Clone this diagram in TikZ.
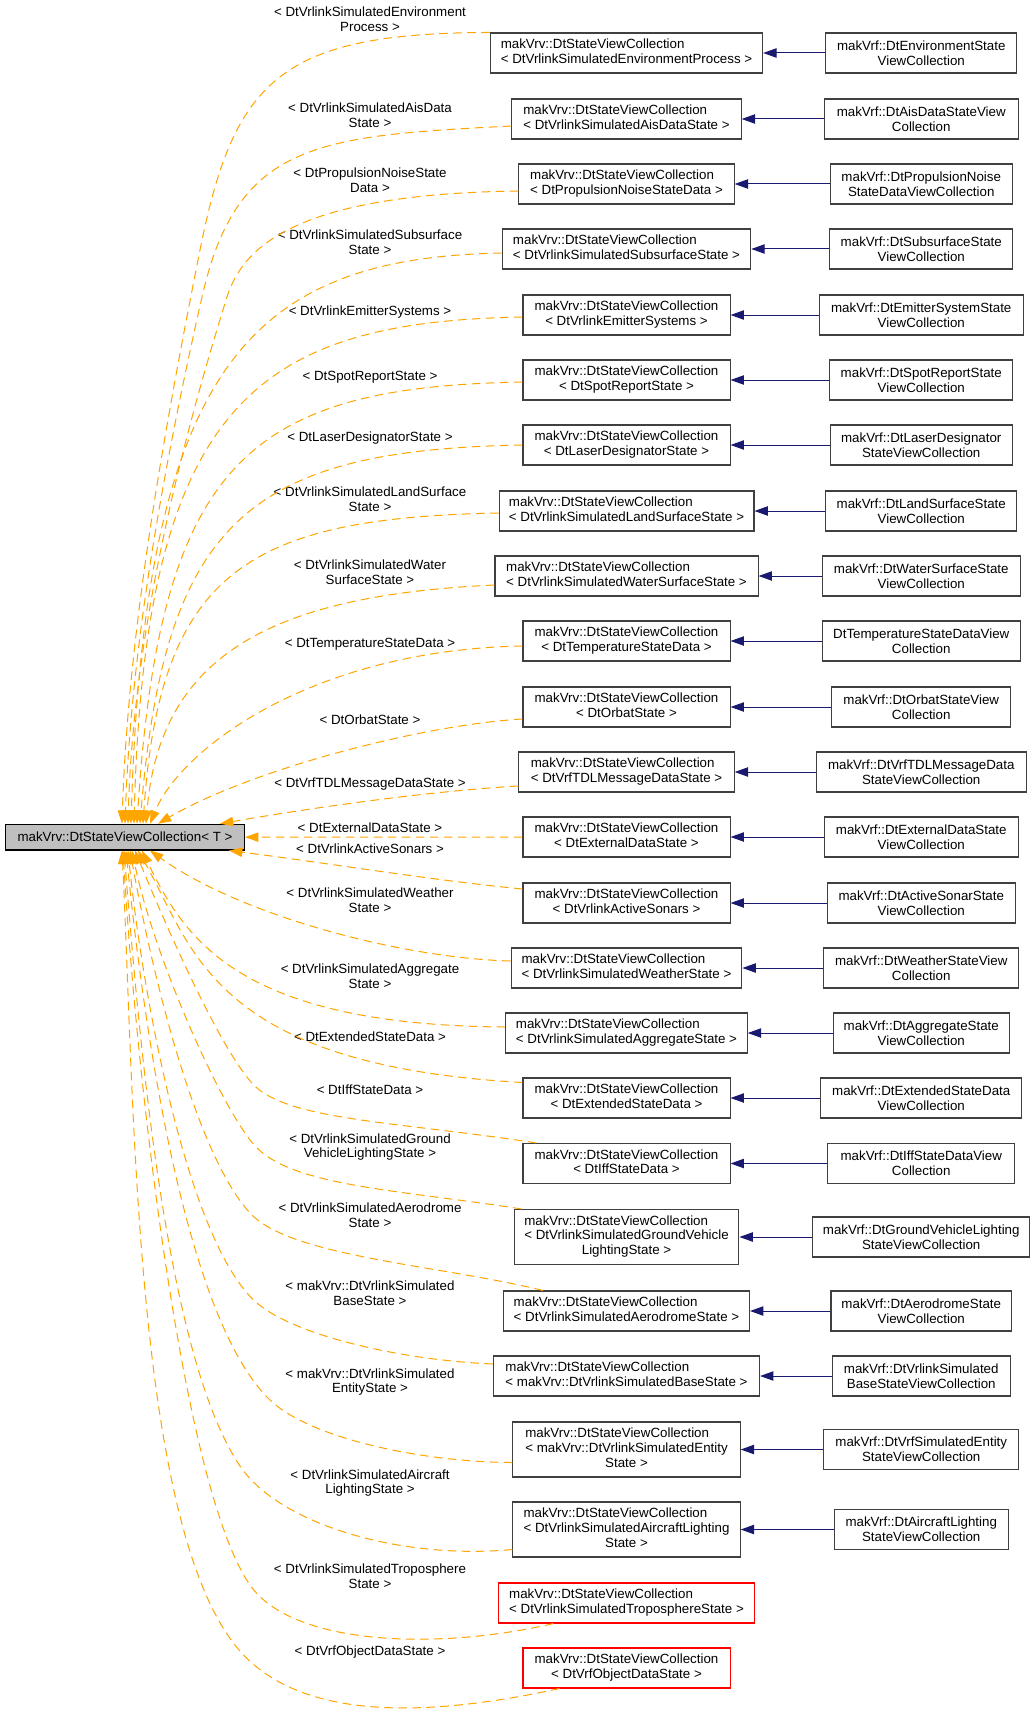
\documentclass[tikz,border=0pt]{standalone}
\usepackage{fontspec}
\setmainfont{Liberation Sans}
\usetikzlibrary{arrows.meta,calc}
\definecolor{dxorange}{HTML}{FFA500}
\definecolor{dxblue}{HTML}{191970}
\definecolor{dxgray}{HTML}{BFBFBF}
\definecolor{dxborder}{HTML}{404040}
\definecolor{dxred}{HTML}{FF0000}
\newcommand\dxsvc[1]{\begin{tabular}{@{}l@{}}makVrv::DtStateViewCollection\\\multicolumn{1}{@{}c@{}}{#1}\end{tabular}}
\newcommand\dxsvcc[2]{\begin{tabular}{@{}l@{}}makVrv::DtStateViewCollection\\#1\\\multicolumn{1}{@{}c@{}}{#2}\end{tabular}}
\begin{document}
\begin{tikzpicture}[x=0.75pt,y=-0.75pt,font=\fontsize{10}{11}\selectfont,
  lbox/.style={draw=dxborder,line width=0.8pt,fill=white,inner sep=0pt,minimum height=30pt,minimum width=155.3pt},
  lbox3/.style={lbox,minimum height=41.25pt},
  redbox/.style={lbox,draw=dxred},
  rbox/.style={draw=dxborder,line width=0.8pt,fill=white,inner sep=0pt,minimum height=30pt,align=center},
  basebox/.style={draw=black,line width=0.8pt,fill=dxgray,inner sep=0pt,minimum height=19.3pt,minimum width=179.25pt},
  lab/.style={align=center,inner sep=0pt},
  inh/.style={draw=dxblue,line width=0.75pt,-{Triangle[length=10pt,width=7pt]}},
  dep/.style={draw=dxorange,line width=0.75pt,dash pattern=on 6.5pt off 4pt,-{Triangle[length=10pt,width=7pt,fill=dxorange]}}]
\fill[white] (0,0) rectangle (1035,1712);
\useasboundingbox (0,0) rectangle (1035,1712);

% base node
\node[basebox] (base) at (125,837.15) {makVrv::DtStateViewCollection< T >};

% left (template instance) nodes
\node[lbox,minimum width=204.2pt] (L1) at (626.5,53) {\dxsvc{< DtVrlinkSimulatedEnvironmentProcess >}};
\node[lbox,minimum width=172pt] (L2) at (626.5,119) {\dxsvc{< DtVrlinkSimulatedAisDataState >}};
\node[lbox,minimum width=161.5pt] (L3) at (626.5,184) {\dxsvc{< DtPropulsionNoiseStateData >}};
\node[lbox,minimum width=186.4pt] (L4) at (626.5,249) {\dxsvc{< DtVrlinkSimulatedSubsurfaceState >}};
\node[lbox] (L5) at (626.5,315) {\dxsvc{< DtVrlinkEmitterSystems >}};
\node[lbox] (L6) at (626.5,380) {\dxsvc{< DtSpotReportState >}};
\node[lbox] (L7) at (626.5,445) {\dxsvc{< DtLaserDesignatorState >}};
\node[lbox,minimum width=191.2pt] (L8) at (626.5,511) {\dxsvc{< DtVrlinkSimulatedLandSurfaceState >}};
\node[lbox,minimum width=197.3pt] (L9) at (626.5,576) {\dxsvc{< DtVrlinkSimulatedWaterSurfaceState >}};
\node[lbox] (L10) at (626.5,641) {\dxsvc{< DtTemperatureStateData >}};
\node[lbox] (L11) at (626.5,707) {\dxsvc{< DtOrbatState >}};
\node[lbox,minimum width=161.5pt] (L12) at (626.5,772) {\dxsvc{< DtVrfTDLMessageDataState >}};
\node[lbox] (L13) at (626.5,837) {\dxsvc{< DtExternalDataState >}};
\node[lbox] (L14) at (626.5,903) {\dxsvc{< DtVrlinkActiveSonars >}};
\node[lbox,minimum width=173.1pt] (L15) at (626.5,968) {\dxsvc{< DtVrlinkSimulatedWeatherState >}};
\node[lbox,minimum width=181.1pt] (L16) at (626.5,1033) {\dxsvc{< DtVrlinkSimulatedAggregateState >}};
\node[lbox] (L17) at (626.5,1098) {\dxsvc{< DtExtendedStateData >}};
\node[lbox] (L18) at (626.5,1163.5) {\dxsvc{< DtIffStateData >}};
\node[lbox3,minimum width=168.6pt] (L19) at (626.5,1237) {\dxsvcc{< DtVrlinkSimulatedGroundVehicle}{LightingState >}};
\node[lbox,minimum width=184.5pt] (L20) at (626.5,1311) {\dxsvc{< DtVrlinkSimulatedAerodromeState >}};
\node[lbox,minimum width=199.6pt] (L21) at (626.5,1376) {\dxsvc{< makVrv::DtVrlinkSimulatedBaseState >}};
\node[lbox3,minimum width=170.5pt] (L22) at (626.5,1449.5) {\dxsvcc{< makVrv::DtVrlinkSimulatedEntity}{State >}};
\node[lbox3,minimum width=170.5pt] (L23) at (626.5,1529.5) {\dxsvcc{< DtVrlinkSimulatedAircraftLighting}{State >}};
\node[redbox,minimum width=191.4pt] (L24) at (626.5,1603) {\dxsvc{< DtVrlinkSimulatedTroposphereState >}};
\node[redbox] (L25) at (626.5,1668) {\dxsvc{< DtVrfObjectDataState >}};

% right (derived) nodes
\node[rbox,minimum width=143.1pt] (R1) at (921.25,53) {makVrf::DtEnvironmentState\\ViewCollection};
\node[rbox,minimum width=145.2pt] (R2) at (921.25,119) {makVrf::DtAisDataStateView\\Collection};
\node[rbox,minimum width=136.2pt] (R3) at (921.25,184) {makVrf::DtPropulsionNoise\\StateDataViewCollection};
\node[rbox,minimum width=137.3pt] (R4) at (921.25,249) {makVrf::DtSubsurfaceState\\ViewCollection};
\node[rbox,minimum width=153.2pt] (R5) at (921.25,315) {makVrf::DtEmitterSystemState\\ViewCollection};
\node[rbox,minimum width=137.3pt] (R6) at (921.25,380) {makVrf::DtSpotReportState\\ViewCollection};
\node[rbox,minimum width=136.2pt] (R7) at (921.25,445) {makVrf::DtLaserDesignator\\StateViewCollection};
\node[rbox,minimum width=143.1pt] (R8) at (921.25,511) {makVrf::DtLandSurfaceState\\ViewCollection};
\node[rbox,minimum width=148.4pt] (R9) at (921.25,576) {makVrf::DtWaterSurfaceState\\ViewCollection};
\node[rbox,minimum width=148.4pt] (R10) at (921.25,641) {DtTemperatureStateDataView\\Collection};
\node[rbox,minimum width=134.3pt] (R11) at (921.25,707) {makVrf::DtOrbatStateView\\Collection};
\node[rbox,minimum width=157.4pt] (R12) at (921.25,772) {makVrf::DtVrfTDLMessageData\\StateViewCollection};
\node[rbox,minimum width=145.2pt] (R13) at (921.25,837) {makVrf::DtExternalDataState\\ViewCollection};
\node[rbox,minimum width=141.2pt] (R14) at (921.25,903) {makVrf::DtActiveSonarState\\ViewCollection};
\node[rbox,minimum width=146.3pt] (R15) at (921.25,968) {makVrf::DtWeatherStateView\\Collection};
\node[rbox,minimum width=132.2pt] (R16) at (921.25,1033) {makVrf::DtAggregateState\\ViewCollection};
\node[rbox,minimum width=150.5pt] (R17) at (921.25,1098) {makVrf::DtExtendedStateData\\ViewCollection};
\node[rbox,minimum width=140.2pt] (R18) at (921.25,1163.5) {makVrf::DtIffStateDataView\\Collection};
\node[rbox,minimum width=162.5pt] (R19) at (921.25,1237) {makVrf::DtGroundVehicleLighting\\StateViewCollection};
\node[rbox,minimum width=135.4pt] (R20) at (921.25,1311) {makVrf::DtAerodromeState\\ViewCollection};
\node[rbox,minimum width=133.3pt] (R21) at (921.25,1376) {makVrf::DtVrlinkSimulated\\BaseStateViewCollection};
\node[rbox,minimum width=146.3pt] (R22) at (921.25,1449.5) {makVrf::DtVrfSimulatedEntity\\StateViewCollection};
\node[rbox,minimum width=130.4pt] (R23) at (921.25,1529.5) {makVrf::DtAircraftLighting\\StateViewCollection};

% edge labels
\node[lab] (lb1) at (370,19.5) {< DtVrlinkSimulatedEnvironment\\Process >};
\node[lab] (lb2) at (370,115.5) {< DtVrlinkSimulatedAisData\\State >};
\node[lab] (lb3) at (370,180.5) {< DtPropulsionNoiseState\\Data >};
\node[lab] (lb4) at (370,242) {< DtVrlinkSimulatedSubsurface\\State >};
\node[lab] (lb5) at (370,312.5) {< DtVrlinkEmitterSystems >};
\node[lab] (lb6) at (370,377) {< DtSpotReportState >};
\node[lab] (lb7) at (370,438.5) {< DtLaserDesignatorState >};
\node[lab] (lb8) at (370,499) {< DtVrlinkSimulatedLandSurface\\State >};
\node[lab] (lb9) at (370,572) {< DtVrlinkSimulatedWater\\SurfaceState >};
\node[lab] (lb10) at (370,644) {< DtTemperatureStateData >};
\node[lab] (lb11) at (370,720) {< DtOrbatState >};
\node[lab] (lb12) at (370,784) {< DtVrfTDLMessageDataState >};
\node[lab] (lb13) at (370,828) {< DtExternalDataState >};
\node[lab] (lb14) at (370,849) {< DtVrlinkActiveSonars >};
\node[lab] (lb15) at (370,900) {< DtVrlinkSimulatedWeather\\State >};
\node[lab] (lb16) at (370,976) {< DtVrlinkSimulatedAggregate\\State >};
\node[lab] (lb17) at (370,1037) {< DtExtendedStateData >};
\node[lab] (lb18) at (370,1090) {< DtIffStateData >};
\node[lab] (lb19) at (370,1147) {< DtVrlinkSimulatedGround\\VehicleLightingState >};
\node[lab] (lb20) at (370,1215.5) {< DtVrlinkSimulatedAerodrome\\State >};
\node[lab] (lb21) at (370,1293) {< makVrv::DtVrlinkSimulated\\BaseState >};
\node[lab] (lb22) at (370,1382) {< makVrv::DtVrlinkSimulated\\EntityState >};
\node[lab] (lb23) at (370,1483) {< DtVrlinkSimulatedAircraft\\LightingState >};
\node[lab] (lb24) at (370,1576) {< DtVrlinkSimulatedTroposphere\\State >};
\node[lab] (lb25) at (370,1652.5) {< DtVrfObjectDataState >};

% inheritance edges
\foreach \i in {1,...,23} { \draw[inh] (R\i) -- (L\i); }

% template instance edges
\draw[dep] (L1.north west) .. controls (280,33) and (234,80) .. (200,250) .. controls (163,436) and (128,634) .. ($(base.north)+(-3,0)$);
\draw[dep] ($(L2.west)+(0,7)$) .. controls (317,136) and (237,142) .. (202,297) .. controls (163,469) and (131,648) .. (base.north);
\draw[dep] ($(L3.west)+(0,7)$) .. controls (300,194) and (243.5,244.5) .. (227,297) .. controls (174,466) and (133,647) .. ($(base.north)+(3,0)$);
\draw[dep] ($(L4.west)+(0,4)$) .. controls (255,258) and (145,360) .. ($(base.north)+(6,0)$);
\draw[dep] ($(L5.west)+(0,2)$) .. controls (260,322) and (145,400) .. ($(base.north)+(9,0)$);
\draw[dep] ($(L6.west)+(0,2)$) .. controls (250,387) and (160,460) .. ($(base.north)+(12,0)$);
\draw[dep] (L7.west) .. controls (250,450) and (165,520) .. ($(base.north)+(15,0)$);
\draw[dep] ($(L8.west)+(0,2)$) .. controls (250,518) and (160,570) .. ($(base.north)+(18,0)$);
\draw[dep] ($(L9.west)+(0,9)$) .. controls (280,595) and (160,650) .. ($(base.north)+(21,0)$);
\draw[dep] ($(L10.west)+(0,5)$) .. controls (310,650) and (180,750) .. ($(base.north)+(25,0)$);
\draw[dep] ($(L11.west)+(0,12)$) .. controls (420,725) and (250,770) .. ($(base.north)+(33,0)$);
\draw[dep] ($(L12.west)+(0,14)$) .. controls (430,791) and (310,808) .. ($(base.north)+(95,0)$);
\draw[dep] (L13.west) -- (base.east);
\draw[dep] ($(L14.west)+(0,-14)$) .. controls (430,880) and (320,862) .. ($(base.south)+(104,0)$);
\draw[dep] ($(L15.west)+(0,-7)$) .. controls (400,958) and (240,915) .. ($(base.south)+(25,0)$);
\draw[dep] ($(L16.west)+(0,-6)$) .. controls (240,1025) and (185,940) .. ($(base.south)+(17,0)$);
\draw[dep] ($(L17.north west)+(0,5)$) .. controls (210,1065) and (193,947) .. ($(base.south)+(13,0)$);
\draw[dep] ($(L18.north west)+(14,0)$) .. controls (400,1122) and (295,1120.5) .. (257,1088) .. controls (227,1062) and (173,943) .. ($(base.south)+(10,0)$);
\draw[dep] ($(L19.north west)+(8,0)$) .. controls (400,1190) and (296,1186.5) .. (257,1148) .. controls (225,1116.5) and (154,959) .. ($(base.south)+(7,0)$);
\draw[dep] ($(L20.north west)+(40,0)$) .. controls (440,1265) and (290,1257) .. (250,1213) .. controls (196,1154) and (153,978) .. ($(base.south)+(5,0)$);
\draw[dep] ($(L21.west)+(0,-12)$) .. controls (400,1360) and (295,1335.5) .. (257,1303) .. controls (188.6,1244.5) and (143,999.5) .. ($(base.south)+(3,0)$);
\draw[dep] ($(L22.west)+(0,13)$) .. controls (420,1462) and (309.6,1438) .. (270,1400) .. controls (183.6,1317) and (143,1020) .. ($(base.south)+(1,0)$);
\draw[dep] ($(L23.west)+(0,20)$) .. controls (400,1560) and (279,1524) .. (240,1466) .. controls (167,1358) and (140,1051) .. ($(base.south)+(-1,0)$);
\draw[dep] ($(L24.south west)+(55,0)$) .. controls (440,1650) and (292.75,1646.5) .. (250,1585) .. controls (181.6,1486.6) and (136,1071) .. ($(base.south)+(-2,0)$);
\draw[dep] ($(L25.south west)+(37,0)$) .. controls (419,1719) and (299.4,1718.5) .. (240,1651) .. controls (134,1531) and (134.5,1101) .. ($(base.south)+(-3,0)$);
\end{tikzpicture}
\end{document}
